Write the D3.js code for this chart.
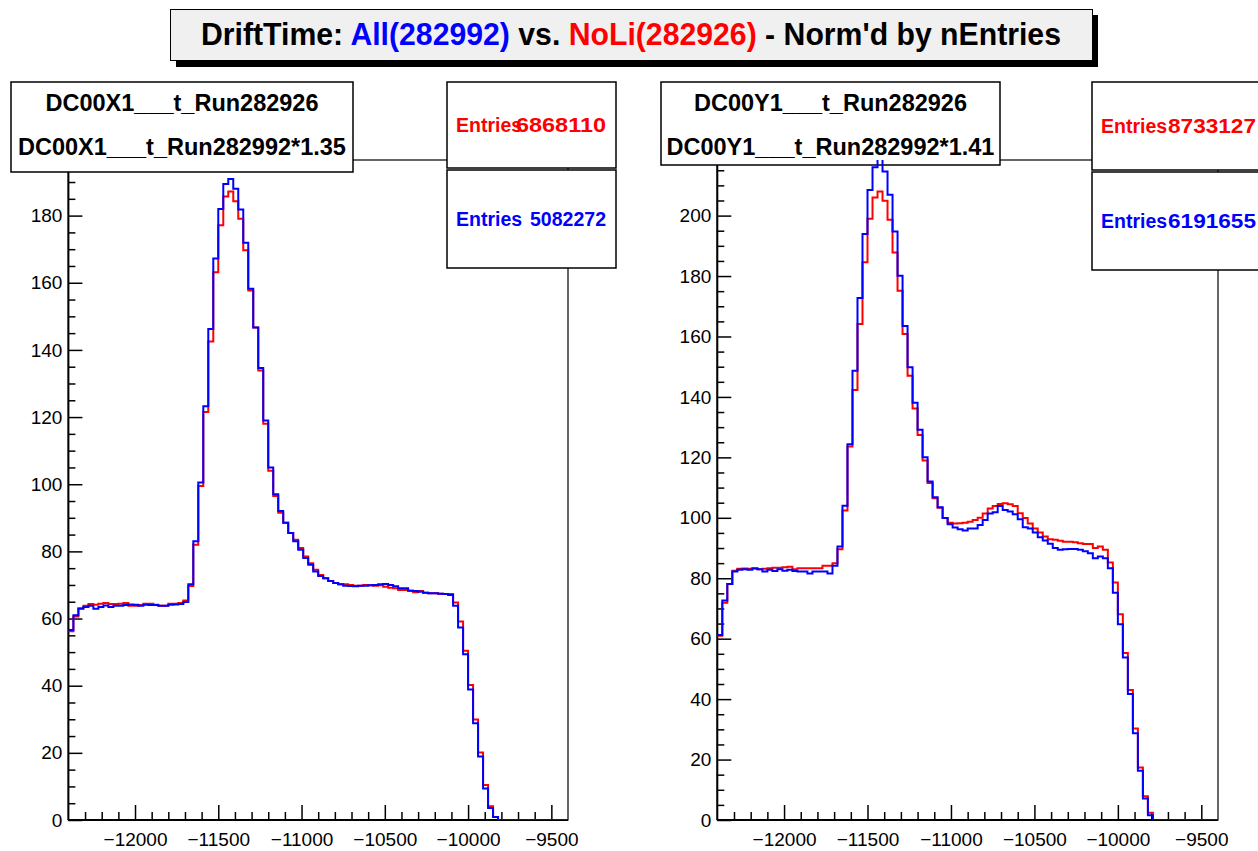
<!DOCTYPE html>
<html><head><meta charset="utf-8">
<script src="https://cdn.jsdelivr.net/npm/d3@7"></script>
<style>
body{margin:0;background:#fff}
svg{display:block}
text{font-family:"Liberation Sans",Arial,Helvetica,sans-serif}
</style>
</head><body>
<svg id="c" width="1258" height="851"></svg>
<script>
// ---------- data ----------
const xRange = [-12400, -9400];
const nBins = 100;
const xMajorTicks = [-12000, -11500, -11000, -10500, -10000, -9500];

const leftRed = [
56.2,60.6,63.1,63.8,64.3,64.1,64.4,64.6,64.3,64.3,
64.4,64.6,63.8,63.8,64.0,64.4,64.4,64.1,63.8,63.8,
64.4,64.4,64.6,65.4,69.7,82.0,99.5,121.5,142.5,163.1,
177.1,185.7,187.2,184.3,179.1,169.7,157.7,146.7,133.9,118.0,
104.0,96.5,91.5,88.5,85.5,83.5,81.0,78.5,76.5,74.5,
73.0,72.0,71.2,70.6,70.2,70.2,70.0,69.8,69.8,70.0,
69.9,69.8,69.9,69.5,69.2,69.0,68.5,68.5,68.3,67.8,
68.2,67.7,67.5,67.5,67.4,67.3,67.3,64.8,59.1,50.4,
40.2,29.9,20.1,10.4,4.1,0.9,0,0,0,0,
0,0,0,0,0,0,0,0,0,0];

const leftBlue = [
56.6,61.0,62.9,63.4,63.8,62.9,63.4,63.9,63.4,63.8,
63.8,64.0,64.2,64.1,63.8,64.1,64.0,64.0,63.8,63.8,
64.1,64.2,64.3,64.9,70.2,83.0,100.5,123.2,146.2,167.2,
182.0,189.4,190.9,188.0,181.8,171.9,158.2,146.7,134.6,119.0,
105.0,97.0,92.0,88.5,85.5,83.0,80.5,78.0,76.0,74.0,
72.7,72.0,71.2,70.6,70.2,69.8,69.7,69.6,69.8,69.8,
69.9,70.0,70.2,70.3,70.0,69.6,69.0,69.0,68.3,68.2,
68.0,67.7,67.5,67.5,67.4,67.3,67.0,63.8,57.3,49.4,
38.9,28.8,18.9,9.4,3.6,0.9,0,0,0,0,
0,0,0,0,0,0,0,0,0,0];

const rightRed = [
61.0,71.9,78.1,82.5,83.1,83.2,83.1,83.3,83.0,83.1,
83.3,83.5,83.5,83.6,83.8,83.0,83.3,83.3,83.3,83.3,
83.3,84.1,84.1,85.0,89.6,102.4,123.6,142.3,164.1,184.6,
199.0,206.0,208.0,204.9,198.6,187.8,175.1,160.8,147.0,136.2,
127.4,119.0,111.5,106.5,103.3,99.9,98.4,98.1,98.2,98.4,
98.7,99.3,100.0,101.4,103.1,103.9,104.6,104.8,104.5,103.9,
101.5,99.9,98.1,96.5,95.1,93.8,92.9,92.7,92.4,92.1,
92.1,91.9,91.6,91.3,91.3,90.0,90.5,89.4,85.2,78.6,
68.1,55.3,43.0,30.3,17.4,7.9,2.4,0,0,0,
0,0,0,0,0,0,0,0,0,0];

const rightBlue = [
61.2,72.6,78.1,82.2,82.8,83.0,82.8,83.2,83.0,82.2,
82.8,82.4,83.0,82.5,82.8,82.4,82.2,82.2,81.6,82.2,
82.2,82.2,81.6,84.1,90.5,104.0,124.3,148.7,172.7,193.9,
208.5,216.0,222.0,214.6,206.9,194.7,180.1,163.5,149.8,138.1,
129.1,120.0,112.0,106.8,103.5,99.9,97.9,96.8,96.2,95.8,
96.5,96.5,97.6,99.3,101.4,101.8,103.9,102.6,102.1,101.2,
99.5,96.9,96.5,95.1,93.6,92.5,91.4,90.0,89.4,89.6,
89.7,89.7,89.4,88.9,88.3,86.6,87.2,86.6,83.3,75.2,
64.8,53.8,41.7,28.7,16.3,7.1,1.6,0,0,0,
0,0,0,0,0,0,0,0,0,0];

const titleParts = [
  {t:"DriftTime: ", c:"#000"},
  {t:"All(282992)", c:"#0000ff"},
  {t:" vs. ", c:"#000"},
  {t:"NoLi(282926)", c:"#ff0000"},
  {t:" - Norm'd by nEntries", c:"#000"}
];
const leftTitles = ["DC00X1___t_Run282926", "DC00X1___t_Run282992*1.35"];
const rightTitles = ["DC00Y1___t_Run282926", "DC00Y1___t_Run282992*1.41"];
const leftEntries = ["6868110", "5082272"];
const rightEntries = ["8733127", "6191655"];

// ---------- drawing ----------
const svg = d3.select("#c");
const RED = "#ff0000", BLUE = "#0000ff";
const FONT = "Liberation Sans, Arial, sans-serif";

// title box with shadow
svg.append("rect").attr("x",176).attr("y",15).attr("width",922).attr("height",52).attr("fill","#000");
svg.append("rect").attr("x",170.5).attr("y",9.5).attr("width",922).attr("height",51)
   .attr("fill","#f0f0f0").attr("stroke","#000").attr("stroke-width",1);
const tt = svg.append("text").attr("x",631).attr("y",45).attr("text-anchor","middle")
   .attr("font-size",30.5).attr("font-weight","bold")
   .attr("textLength",860).attr("lengthAdjust","spacingAndGlyphs");
titleParts.forEach(p=>tt.append("tspan").attr("fill",p.c).text(p.t));

function drawPad(cfg){
  const g = svg.append("g");
  const x = d3.scaleLinear().domain(xRange).range([cfg.x0, cfg.x1]);
  const yMax = d3.max(cfg.red)*1.05;
  const y = d3.scaleLinear().domain([0, yMax]).range([cfg.yb, cfg.yt]);
  const bw = (xRange[1]-xRange[0])/nBins;

  // frame
  g.append("rect").attr("x",cfg.x0).attr("y",cfg.yt).attr("width",cfg.x1-cfg.x0)
   .attr("height",cfg.yb-cfg.yt).attr("fill","none").attr("stroke","#000").attr("stroke-width",1.2);
  g.append("line").attr("x1",cfg.x0).attr("x2",cfg.x1).attr("y1",cfg.yb).attr("y2",cfg.yb)
   .attr("stroke","#000").attr("stroke-width",2);
  g.append("line").attr("x1",cfg.x0).attr("x2",cfg.x0).attr("y1",cfg.yt).attr("y2",cfg.yb)
   .attr("stroke","#000").attr("stroke-width",2);

  // x axis major / minor
  const majorX = d3.axisBottom(x).tickValues(xMajorTicks).tickSize(-15).tickPadding(13)
      .tickFormat(d3.format("d"));
  const minorVals = d3.range(xRange[0]+100, xRange[1], 100).filter(v=>v%500!==0);
  const minorX = d3.axisBottom(x).tickValues(minorVals).tickSize(-8).tickFormat("");
  const gx = g.append("g").attr("transform",`translate(0,${cfg.yb})`).call(majorX);
  const gx2 = g.append("g").attr("transform",`translate(0,${cfg.yb})`).call(minorX);
  [gx,gx2].forEach(a=>{a.select(".domain").remove(); a.selectAll("line").attr("stroke","#000").attr("stroke-width",1.5);});
  gx.selectAll("text").attr("font-size",19).attr("fill","#000").attr("font-family",FONT);

  // y axis
  const yMajVals = d3.range(0, yMax, 20);
  const yMinVals = d3.range(0, yMax, 5).filter(v=>v%20!==0);
  const majorY = d3.axisLeft(y).tickValues(yMajVals).tickSize(-14).tickPadding(6).tickFormat(d3.format("d"));
  const minorY = d3.axisLeft(y).tickValues(yMinVals).tickSize(-7).tickFormat("");
  const gy = g.append("g").attr("transform",`translate(${cfg.x0},0)`).call(majorY);
  const gy2 = g.append("g").attr("transform",`translate(${cfg.x0},0)`).call(minorY);
  [gy,gy2].forEach(a=>{a.select(".domain").remove(); a.selectAll("line").attr("stroke","#000").attr("stroke-width",1.5);});
  gy.selectAll("text").attr("font-size",19).attr("fill","#000").attr("font-family",FONT);

  // title (legend) box
  const tb = cfg.tbox;
  g.append("rect").attr("x",tb[0]).attr("y",tb[1]).attr("width",tb[2]).attr("height",tb[3])
   .attr("fill","#fff").attr("stroke","#000").attr("stroke-width",1.5);
  cfg.titles.forEach((t,i)=>{
    g.append("text").attr("x",tb[0]+tb[2]/2).attr("y",tb[1]+29+i*44).attr("text-anchor","middle")
     .attr("font-size",23.5).attr("font-weight","bold").attr("fill","#000").text(t);
  });

  // stats boxes
  const sb = cfg.sbox;
  [[RED,0],[BLUE,1]].forEach(([col,i])=>{
    const by = sb[1] + i*sb[4];
    const bh = i===0 ? sb[3] : sb[5];
    g.append("rect").attr("x",sb[0]).attr("y",by).attr("width",sb[2]).attr("height",bh)
     .attr("fill","#fff").attr("stroke","#000").attr("stroke-width",1.5);
    const ty = by + bh/2 + 7;
    g.append("text").attr("x",sb[0]+9).attr("y",ty).attr("font-size",19.5).attr("font-weight","bold")
     .attr("fill",col).text("Entries");
    g.append("text").attr("x",sb[0]+sb[2]-cfg.numMargin).attr("y",ty).attr("text-anchor","end").attr("font-size",19.5)
     .attr("font-weight","bold").attr("fill",col)
     .attr("textLength",cfg.numWidth[i]).attr("lengthAdjust","spacingAndGlyphs").text(cfg.entries[i]);
  });

  // histograms clipped to frame
  const cid = "clip"+cfg.id;
  svg.append("clipPath").attr("id",cid).append("rect").attr("x",cfg.x0).attr("y",cfg.yt)
     .attr("width",cfg.x1-cfg.x0).attr("height",cfg.yb-cfg.yt);
  const line = d3.line().x(d=>x(d[0])).y(d=>y(d[1])).curve(d3.curveStepAfter);
  [[cfg.red,RED],[cfg.blue,BLUE]].forEach(([arr,col])=>{
    const pts = arr.map((v,i)=>[xRange[0]+i*bw, v]);
    pts.push([xRange[1], arr[arr.length-1]]);
    g.append("path").attr("clip-path",`url(#${cid})`).attr("d",line(pts))
     .attr("fill","none").attr("stroke",col).attr("stroke-width",2);
  });
}

drawPad({id:"L", x0:68.4, x1:568, yt:160, yb:820, red:leftRed, blue:leftBlue,
  titles:leftTitles, tbox:[11,82,342,90], entries:leftEntries, sbox:[447,82,169,86,88,98],
  numMargin:10, numWidth:[90,76]});
drawPad({id:"R", x0:717.3, x1:1218, yt:160, yb:820, red:rightRed, blue:rightBlue,
  titles:rightTitles, tbox:[661,82,339,83], entries:rightEntries, sbox:[1092,82,172,88,90,98],
  numMargin:8, numWidth:[88,88]});
</script>
</body></html>
